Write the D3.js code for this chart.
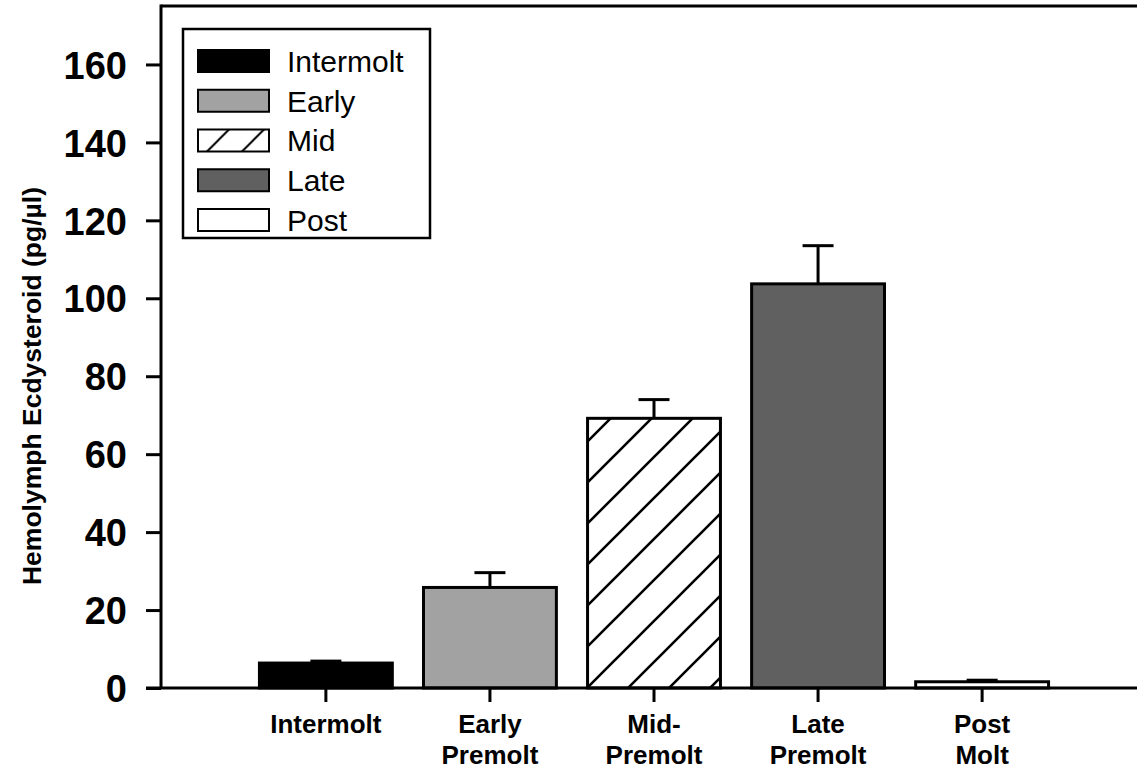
<!DOCTYPE html>
<html>
<head>
<script src="https://d3js.org/d3.v7.min.js"></script>
<style>
  body { margin: 0; background: #fff; }
  svg { display: block; font-family: "Liberation Sans", Arial, sans-serif; }
  .ytick text { font-size: 38px; font-weight: bold; }
  .xlab { font-size: 26px; font-weight: bold; }
  .ytitle { font-size: 26.5px; font-weight: bold; }
  .leg text { font-size: 30px; }
</style>
</head>
<body>
<div id="chart"></div>
<script>
// data
const categories = ["Intermolt", "Early", "Mid", "Late", "Post"];
const xLabels = [["Intermolt"], ["Early", "Premolt"], ["Mid-", "Premolt"], ["Late", "Premolt"], ["Post", "Molt"]];
const means = [6.4, 25.8, 69.2, 103.7, 1.6];
const errors = [0.5, 3.8, 4.8, 9.8, 0.4];
const fills = ["#000000", "#a2a2a2", "url(#hatch)", "#606060", "#ffffff"];
const yTicks = [0, 20, 40, 60, 80, 100, 120, 140, 160];

const W = 1137, H = 771;
const mLeft = 161, mRight = 1147, mTop = 6, mBottom = 688;

const svg = d3.select("#chart").append("svg")
  .attr("width", W).attr("height", H);

// hatch pattern for Mid
const defs = svg.append("defs");
const pat = defs.append("pattern")
  .attr("id", "hatch")
  .attr("patternUnits", "userSpaceOnUse")
  .attr("width", 41).attr("height", 41)
  .attr("patternTransform", "translate(0,4)");
pat.append("rect").attr("width", 41).attr("height", 41).attr("fill", "#fff");
pat.append("path")
  .attr("d", "M-5,46 L46,-5 M-5,5 L5,-5 M36,46 L46,36")
  .attr("stroke", "#000").attr("stroke-width", 2.6);

// smaller hatch in the legend swatch
const lp = defs.append("pattern")
  .attr("id", "legHatch")
  .attr("patternUnits", "userSpaceOnUse")
  .attr("width", 35).attr("height", 35)
  .attr("patternTransform", "translate(8,0)");
lp.append("rect").attr("width", 35).attr("height", 35).attr("fill", "#fff");
lp.append("path")
  .attr("d", "M-5,40 L40,-5 M-5,5 L5,-5 M30,40 L40,30")
  .attr("stroke", "#000").attr("stroke-width", 2);

const x = d3.scaleBand()
  .domain(categories)
  .range([mLeft, mRight])
  .paddingInner(0.19)
  .paddingOuter(0.6);

const y = d3.scaleLinear()
  .domain([0, 175])
  .range([mBottom, mTop]);

// frame: top line
svg.append("line")
  .attr("x1", mLeft).attr("x2", mRight)
  .attr("y1", mTop).attr("y2", mTop)
  .attr("stroke", "#000").attr("stroke-width", 3);

// bars
svg.selectAll(".bar")
  .data(categories)
  .enter().append("rect")
  .attr("class", "bar")
  .attr("x", d => x(d))
  .attr("width", x.bandwidth())
  .attr("y", (d, i) => y(means[i]))
  .attr("height", (d, i) => y(0) - y(means[i]))
  .attr("fill", (d, i) => fills[i])
  .attr("stroke", "#000")
  .attr("stroke-width", 3);

// error bars (upper only)
const eb = svg.selectAll(".err")
  .data(categories)
  .enter().append("g")
  .attr("class", "err")
  .attr("stroke", "#000")
  .attr("stroke-width", 3);
eb.append("line")
  .attr("x1", d => x(d) + x.bandwidth() / 2)
  .attr("x2", d => x(d) + x.bandwidth() / 2)
  .attr("y1", (d, i) => y(means[i]))
  .attr("y2", (d, i) => y(means[i] + errors[i]));
eb.append("line")
  .attr("x1", d => x(d) + x.bandwidth() / 2 - 15.5)
  .attr("x2", d => x(d) + x.bandwidth() / 2 + 15.5)
  .attr("y1", (d, i) => y(means[i] + errors[i]))
  .attr("y2", (d, i) => y(means[i] + errors[i]));

// y axis
const yAxis = svg.append("g")
  .attr("class", "ytick")
  .attr("transform", `translate(${mLeft},0)`)
  .call(d3.axisLeft(y).tickValues(yTicks).tickSize(15).tickPadding(19).tickSizeOuter(0));
yAxis.select(".domain").remove();
yAxis.selectAll(".tick line").attr("stroke", "#000").attr("stroke-width", 3);
yAxis.selectAll(".tick text").attr("fill", "#000").attr("dy", "0.36em");
svg.append("line")
  .attr("x1", mLeft).attr("x2", mLeft)
  .attr("y1", mTop - 1.5).attr("y2", mBottom)
  .attr("stroke", "#000").attr("stroke-width", 3);

// x axis
const xAxis = svg.append("g")
  .attr("transform", `translate(0,${mBottom})`)
  .call(d3.axisBottom(x).tickSize(14).tickFormat(""));
xAxis.select(".domain").remove();
xAxis.selectAll(".tick line").attr("stroke", "#000").attr("stroke-width", 3);
svg.append("line")
  .attr("x1", 146).attr("x2", mRight)
  .attr("y1", mBottom).attr("y2", mBottom)
  .attr("stroke", "#000").attr("stroke-width", 3);

// x labels (two lines)
const xl = svg.selectAll(".xlab")
  .data(categories)
  .enter().append("text")
  .attr("class", "xlab")
  .attr("text-anchor", "middle")
  .attr("y", 733);
xl.selectAll("tspan")
  .data((d, i) => xLabels[i].map(t => ({ t, c: d })))
  .enter().append("tspan")
  .attr("x", d => x(d.c) + x.bandwidth() / 2)
  .attr("dy", (d, j) => j === 0 ? 0 : 31)
  .text(d => d.t);

// y title
svg.append("text")
  .attr("class", "ytitle")
  .attr("text-anchor", "middle")
  .attr("transform", "translate(41,386) rotate(-90)")
  .text("Hemolymph Ecdysteroid (pg/µl)");

// legend
const leg = svg.append("g").attr("class", "leg");
leg.append("rect")
  .attr("x", 183).attr("y", 29)
  .attr("width", 247).attr("height", 209)
  .attr("fill", "#fff").attr("stroke", "#000").attr("stroke-width", 2.5);
const rowY = d3.scalePoint().domain(categories).range([61, 220]);
const items = leg.selectAll(".item")
  .data(categories)
  .enter().append("g")
  .attr("transform", d => `translate(0,${rowY(d)})`);
items.append("rect")
  .attr("x", 198).attr("y", -11)
  .attr("width", 71).attr("height", 22)
  .attr("fill", (d, i) => i === 2 ? "url(#legHatch)" : fills[i])
  .attr("stroke", "#000").attr("stroke-width", 2);
items.append("text")
  .attr("x", 287).attr("dy", "0.36em")
  .text(d => d);
</script>
</body>
</html>
